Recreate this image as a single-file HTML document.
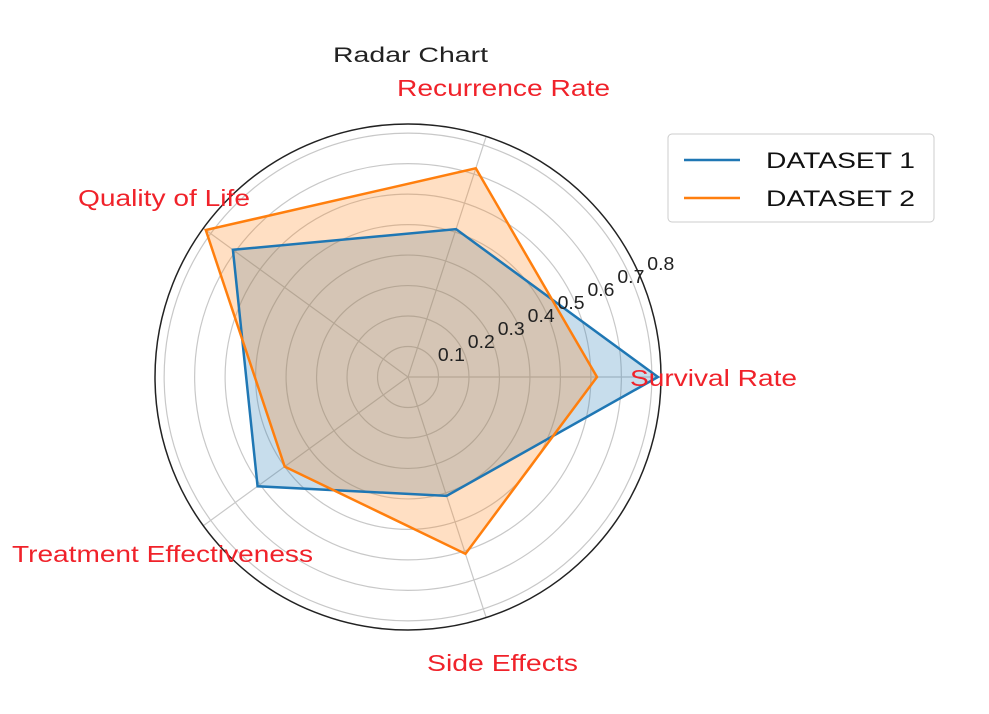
<!DOCTYPE html>
<html><head><meta charset="utf-8"><style>body{margin:0;background:#fff}svg{display:block;font-family:"Liberation Sans",sans-serif}</style></head>
<body>
<svg id="chart" width="989" height="714" viewBox="0 0 989 714">
<text x="333" y="62" font-size="21" textLength="155" lengthAdjust="spacingAndGlyphs" fill="#222">Radar Chart</text>
<g id="grid"></g><g id="fills"></g><g id="series"></g><g id="labels"></g>
<g>
<rect x="668" y="134" width="266" height="88" rx="4" fill="#fff" stroke="#ccc"/>
<line x1="684" y1="160" x2="740" y2="160" stroke="#1f77b4" stroke-width="2.5"/>
<text x="766" y="168" font-size="22" textLength="149" lengthAdjust="spacingAndGlyphs" fill="#111">DATASET 1</text>
<line x1="684" y1="198" x2="740" y2="198" stroke="#ff7f0e" stroke-width="2.5"/>
<text x="766" y="206" font-size="22" textLength="149" lengthAdjust="spacingAndGlyphs" fill="#111">DATASET 2</text>
</g>
</svg>
<script>
const categories=["Survival Rate","Recurrence Rate","Quality of Life","Treatment Effectiveness","Side Effects"];
const dataset1=[0.82,0.51,0.71,0.61,0.41];
const dataset2=[0.62,0.72,0.82,0.50,0.61];
const ticks=[0.1,0.2,0.3,0.4,0.5,0.6,0.7,0.8];
const tickLabels=["0.1","0.2","0.3","0.4","0.5","0.6","0.7","0.8"];
const cx=408,cy=377,rmax=0.83,R=253;
const NS="http://www.w3.org/2000/svg";
function r(v){return v/rmax*R;}
function ang(i){return i*2*Math.PI/categories.length;}
function pt(i,v){return [cx+r(v)*Math.cos(ang(i)),cy-r(v)*Math.sin(ang(i))];}
function mk(tag,attrs,parent){const e=document.createElementNS(NS,tag);for(const k in attrs)e.setAttribute(k,attrs[k]);document.getElementById(parent).appendChild(e);return e;}
ticks.forEach((t,k)=>{
 const c=mk('circle',{cx:cx,cy:cy,r:r(t),fill:'none',stroke:'#c8c8c8','stroke-width':1.2},'grid');
 
 
});
categories.forEach((c,i)=>{
 const p=pt(i,rmax);
 const l=mk('line',{x1:cx,y1:cy,x2:p[0],y2:p[1],stroke:'#c8c8c8','stroke-width':1.2},'grid');
 
 
});
const oc=mk('circle',{cx:cx,cy:cy,r:R,fill:'none',stroke:'#222','stroke-width':1.5},'grid');


function series(vals,color,name){
 const pts=vals.map((v,i)=>pt(i,v).join(',')).join(' ');
 const f=mk('polygon',{points:pts,fill:color,'fill-opacity':0.25,stroke:'none'},'fills');
 
 
 const p=mk('polygon',{points:pts,fill:'none',stroke:color,'stroke-width':2.5,'stroke-linejoin':'miter'},'series');
 
 
}
series(dataset1,'#1f77b4','series-dataset-1');
series(dataset2,'#ff7f0e','series-dataset-2');
ticks.forEach((t,k)=>{
 const a=0.41;
 const rr=r(t)*1.07;
 const tx=mk('text',{x:cx+rr*Math.cos(a),y:cy-rr*Math.sin(a)-3,'font-size':18,fill:'#222',textLength:27,lengthAdjust:'spacingAndGlyphs'},'labels');
 tx.textContent=tickLabels[k];
 
 
});
const lpos=[[630,386,167],[397,96,213],[78,206,172],[12,562,301],[427,671,151]];
categories.forEach((c,i)=>{
 const tx=mk('text',{x:lpos[i][0],y:lpos[i][1],'font-size':23,fill:'#f0222a',textLength:lpos[i][2],lengthAdjust:'spacingAndGlyphs'},'labels');
 tx.textContent=c;
 
 
});
</script>
</body></html>
